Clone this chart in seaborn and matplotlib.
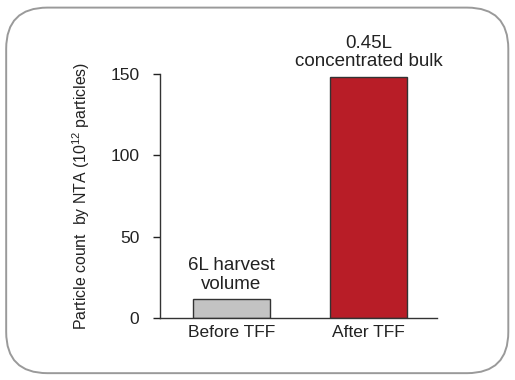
import pandas as pd
import seaborn as sns
import matplotlib.pyplot as plt
from matplotlib.patches import FancyBboxPatch

stages = ["Before TFF", "After TFF"]
particles = [11.7, 148.5]
notes = ["6L harvest\nvolume", "0.45L\nconcentrated bulk"]
colors = ["#c3c3c3", "#b81d27"]

df = pd.DataFrame({"stage": stages, "count": particles})

sns.set_style("white")
plt.rcParams["font.family"] = ["Liberation Sans", "DejaVu Sans"]

fig = plt.figure(figsize=(5.15, 3.8), dpi=100)
ax = fig.add_axes([0.311, 0.163, 0.538, 0.642])

# rounded frame around the whole figure
frame = FancyBboxPatch((0.012, 0.018), 0.975, 0.962,
                       boxstyle="round,pad=0,rounding_size=0.08",
                       transform=fig.transFigure, facecolor="white",
                       edgecolor="#9a9a9a", linewidth=1.4, zorder=-1,
                       mutation_aspect=515 / 380)
fig.patches.append(frame)

sns.barplot(data=df, x="stage", y="count", hue="stage", palette=colors,
            legend=False, width=0.56, edgecolor="#333333", linewidth=1.0,
            saturation=1, ax=ax)

for i, (v, note) in enumerate(zip(particles, notes)):
    ax.text(i, v + 4, note, ha="center", va="bottom", fontsize=13.5,
            color="#222222", linespacing=1.1)

ax.set_xlim(-0.52, 1.5)
ax.set_ylim(0, 150)
ax.set_yticks([0, 50, 100, 150])
ax.set_xlabel("")
ax.set_ylabel("Particle count  by NTA (10$^{\\mathregular{12}}$ particles)",
              fontsize=11.4, color="#222222", labelpad=13)
ax.tick_params(axis="y", direction="out", length=5, width=1, left=True,
               labelsize=12.5, colors="#222222", pad=10)
ax.tick_params(axis="x", length=0, labelsize=12.5, colors="#222222", pad=5)
sns.despine(ax=ax)
for s in ["left", "bottom"]:
    ax.spines[s].set_color("#333333")
    ax.spines[s].set_linewidth(1.0)
ax.patch.set_alpha(0)

fig.savefig("out.png", dpi=100)
